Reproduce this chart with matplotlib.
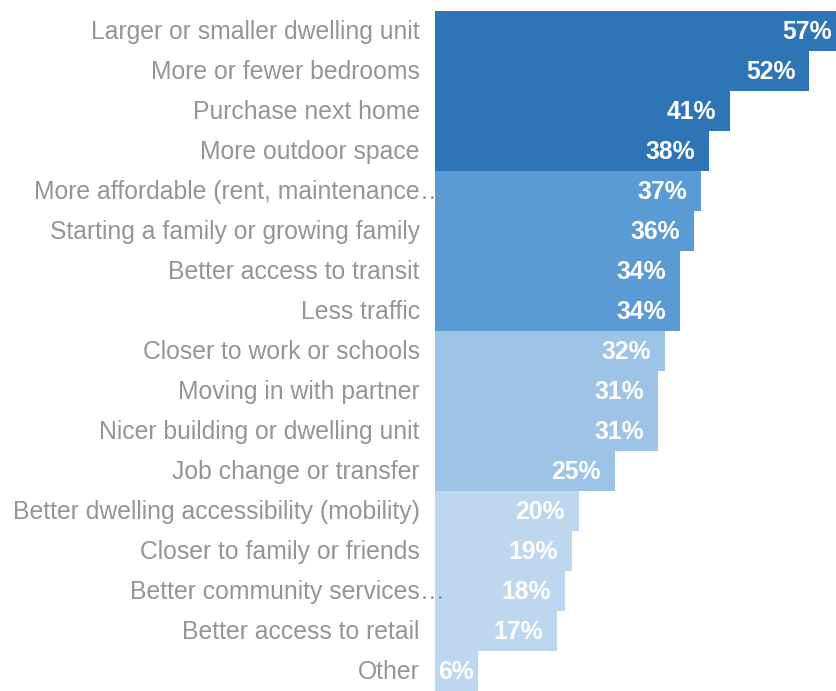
import matplotlib.pyplot as plt

plt.rcParams['font.family'] = ['Liberation Sans', 'DejaVu Sans']

# survey results: reasons for moving
reasons = [
    "Larger or smaller dwelling unit",
    "More or fewer bedrooms",
    "Purchase next home",
    "More outdoor space",
    "More affordable (rent, maintenance",
    "Starting a family or growing family",
    "Better access to transit",
    "Less traffic",
    "Closer to work or schools",
    "Moving in with partner",
    "Nicer building or dwelling unit",
    "Job change or transfer",
    "Better dwelling accessibility (mobility)",
    "Closer to family or friends",
    "Better community services",
    "Better access to retail",
    "Other",
]
truncated = [False, False, False, False, True, False, False, False,
             False, False, False, False, False, False, True, False, False]
shares = [57, 52, 41, 38, 37, 36, 34, 34, 32, 31, 31, 25, 20, 19, 18, 17, 6]
tier = [0, 0, 0, 0, 1, 1, 1, 1, 2, 2, 2, 2, 3, 3, 3, 3, 3]
tier_colors = ["#2E75B6", "#5B9BD5", "#9DC3E6", "#BDD7EE"]

W, H = 836, 691
fig = plt.figure(figsize=(W / 100, H / 100), dpi=100)
ax = fig.add_axes([435 / W, 0, 401 / W, 680 / H])

y = list(range(len(reasons)))
colors = [tier_colors[t] for t in tier]
ax.barh(y, shares, height=1.0, color=colors, linewidth=0)

ax.set_xlim(0, 401 / 7.2)
ax.set_ylim(len(reasons) - 0.5, -0.5)
ax.axis('off')

label_color = "#959595"
fs = 17.8
for i, (txt, v) in enumerate(zip(reasons, shares)):
    ax.annotate(txt, xy=(0, i), xycoords=('axes fraction', 'data'),
                xytext=(-11, -1), textcoords='offset points',
                ha='right', va='center', fontsize=fs, color=label_color)
    if truncated[i]:
        ax.annotate("\u2026", xy=(0, i), xycoords=('axes fraction', 'data'),
                    xytext=(-11, -1), textcoords='offset points',
                    ha='left', va='center', fontsize=fs, color=label_color)
    # value labels sit inside the bar end; narrow bars get them at the start
    if v >= 10:
        ax.annotate(f"{v}%", xy=(v, i), xytext=(-10, -1),
                    textcoords='offset points', ha='right', va='center',
                    fontsize=fs, fontweight='bold', color='white',
                    annotation_clip=False)
    else:
        ax.annotate(f"{v}%", xy=(0, i), xytext=(2.5, -1),
                    textcoords='offset points', ha='left', va='center',
                    fontsize=fs, fontweight='bold', color='white')

fig.savefig("out.png", dpi=100)
